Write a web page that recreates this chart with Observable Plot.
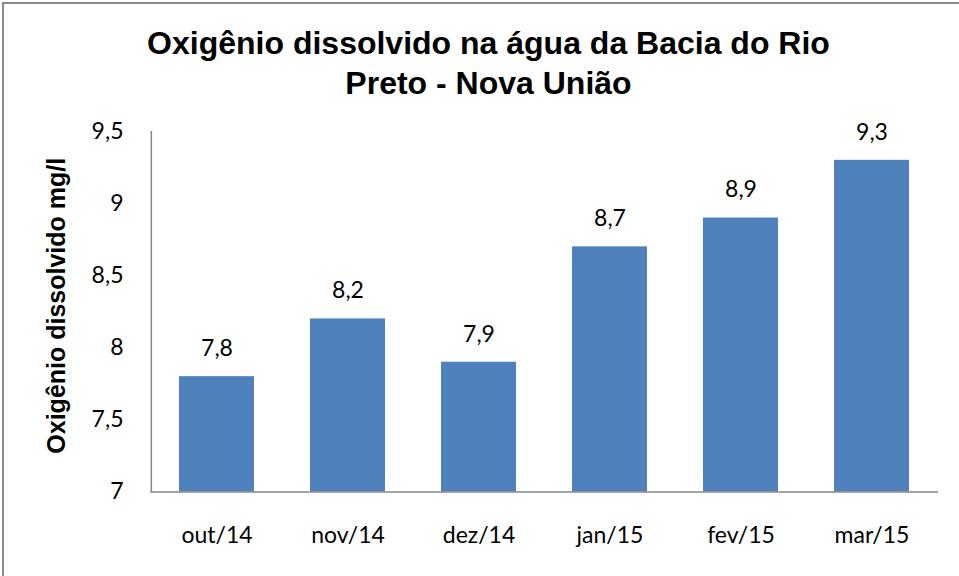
<!DOCTYPE html>
<html>
<head>
<meta charset="utf-8">
<script src="https://cdn.jsdelivr.net/npm/d3@7"></script>
<script src="https://cdn.jsdelivr.net/npm/@observablehq/plot@0.6"></script>
<style>
  html, body { margin: 0; padding: 0; background: #fff; }
  #wrap { position: relative; width: 959px; height: 576px; overflow: hidden; }
  #frame { position: absolute; left: 2px; top: 2px; width: 1000px; height: 1000px; border-left: 2px solid #8a8a8a; border-top: 2px solid #8a8a8a; box-sizing: border-box; }
  #title { position: absolute; left: 0; width: 977px; top: 23px; text-align: center;
    font-family: "Liberation Sans", Arial, sans-serif; font-weight: bold; font-size: 32px; line-height: 40px; color: #000; }
  #chart { position: absolute; left: 0; top: 0; }
</style>
</head>
<body>
<div id="wrap">
  <div id="frame"></div>
  <div id="chart"></div>
  <div id="title">Oxigênio dissolvido na água da Bacia do Rio<br>Preto - Nova União</div>
</div>
<script>
const months = ["out/14", "nov/14", "dez/14", "jan/15", "fev/15", "mar/15"];
const oxygen = [7.8, 8.2, 7.9, 8.7, 8.9, 9.3];
const yTicks = [7, 7.5, 8, 8.5, 9, 9.5];
const yLabel = "Oxigênio dissolvido mg/l";

const data = months.map((m, i) => ({month: m, value: oxygen[i]}));
const fmt = v => String(v).replace(".", ",");
const plotWidth = 959 - 150 - 21;
const halfStep = plotWidth / months.length / 2;

const chart = Plot.plot({
  width: 959,
  height: 576,
  marginLeft: 150,
  marginRight: 21,
  marginTop: 131,
  marginBottom: 84.5,
  style: {fontFamily: "Lato, 'Open Sans', sans-serif", fontSize: "23px", color: "#000", background: "transparent"},
  x: {domain: months, paddingInner: 0.43, paddingOuter: 0.215, label: null},
  y: {domain: [7, 9.5], label: null},
  marks: [
    Plot.barY(data, {x: "month", y1: 7, y2: "value", fill: "#4F81BD"}),
    Plot.text(data, {x: "month", y: "value", text: d => fmt(d.value), dy: -28, fontSize: 23, fill: "#000"}),
    Plot.axisY({ticks: yTicks, tickFormat: fmt, tickSize: 0, tickPadding: 27, fontSize: 23, label: null}),
    Plot.axisX({tickSize: 0, tickPadding: 35, fontSize: 23, label: null}),
    Plot.ruleY([7], {stroke: "#868686", strokeWidth: 1.5}),
    Plot.ruleX([months[0]], {x: d => d, dx: -halfStep, y1: 7, y2: 9.5, stroke: "#868686", strokeWidth: 1.5}),
    Plot.text([yLabel], {frameAnchor: "left", dx: -94, dy: -6, rotate: -90, textAnchor: "middle", fontSize: 25, fontWeight: "bold",
      fontFamily: "'Liberation Sans', Arial, sans-serif", text: d => d})
  ]
});
document.getElementById("chart").appendChild(chart);
</script>
</body>
</html>
